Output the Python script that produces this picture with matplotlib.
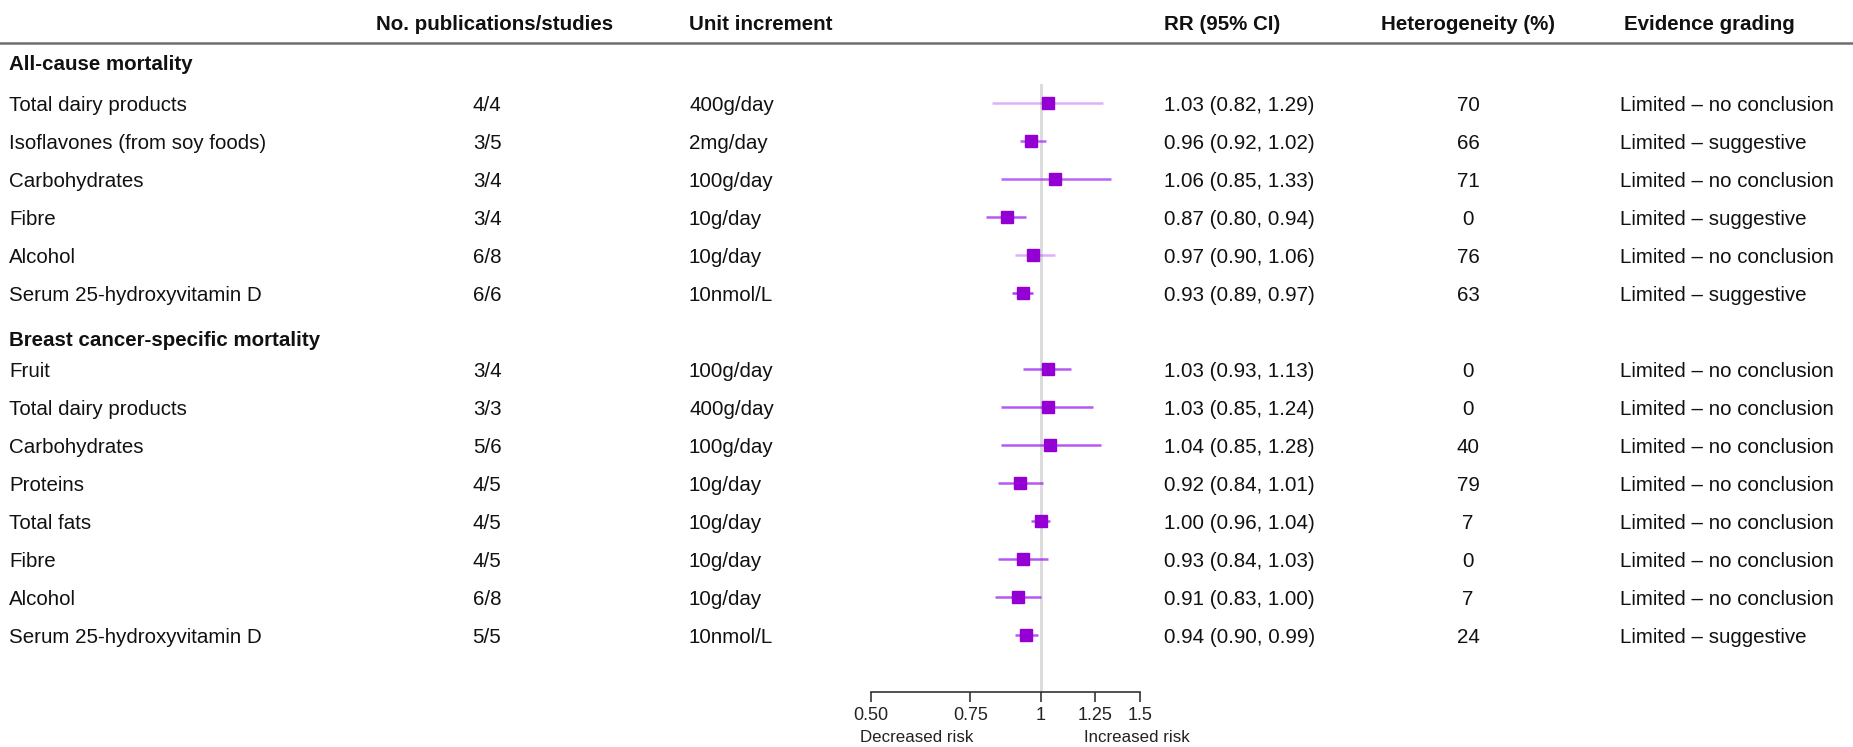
import numpy as np
import matplotlib
matplotlib.use("Agg")
from matplotlib import pyplot as plt

plt.rcParams['font.family'] = ['Liberation Sans', 'DejaVu Sans']

# data
sections = ["All-cause mortality", "Breast cancer-specific mortality"]
section_of = [0, 0, 0, 0, 0, 0, 1, 1, 1, 1, 1, 1, 1, 1]
exposures = ["Total dairy products", "Isoflavones (from soy foods)", "Carbohydrates", "Fibre",
             "Alcohol", "Serum 25-hydroxyvitamin D",
             "Fruit", "Total dairy products", "Carbohydrates", "Proteins", "Total fats",
             "Fibre", "Alcohol", "Serum 25-hydroxyvitamin D"]
studies = ["4/4", "3/5", "3/4", "3/4", "6/8", "6/6",
           "3/4", "3/3", "5/6", "4/5", "4/5", "4/5", "6/8", "5/5"]
units = ["400g/day", "2mg/day", "100g/day", "10g/day", "10g/day", "10nmol/L",
         "100g/day", "400g/day", "100g/day", "10g/day", "10g/day", "10g/day", "10g/day", "10nmol/L"]
rr = [1.03, 0.96, 1.06, 0.87, 0.97, 0.93, 1.03, 1.03, 1.04, 0.92, 1.00, 0.93, 0.91, 0.94]
rr_lo = [0.82, 0.92, 0.85, 0.80, 0.90, 0.89, 0.93, 0.85, 0.85, 0.84, 0.96, 0.84, 0.83, 0.90]
rr_hi = [1.29, 1.02, 1.33, 0.94, 1.06, 0.97, 1.13, 1.24, 1.28, 1.01, 1.04, 1.03, 1.00, 0.99]
heterogeneity = [70, 66, 71, 0, 76, 63, 0, 0, 40, 79, 7, 0, 7, 24]
grading = ["Limited – no conclusion", "Limited – suggestive", "Limited – no conclusion",
           "Limited – suggestive", "Limited – no conclusion", "Limited – suggestive",
           "Limited – no conclusion", "Limited – no conclusion", "Limited – no conclusion",
           "Limited – no conclusion", "Limited – no conclusion", "Limited – no conclusion",
           "Limited – no conclusion", "Limited – suggestive"]
ticks = [0.5, 0.75, 1, 1.25, 1.5]
tick_labels = ["0.50", "0.75", "1", "1.25", "1.5"]
columns = ["No. publications/studies", "Unit increment", "RR (95% CI)", "Heterogeneity (%)", "Evidence grading"]

# style (ci line strength per row)
ci_alpha = [0.35, 0.7, 0.7, 0.75, 0.35, 0.85, 0.75, 0.75, 0.75, 0.75, 0.75, 0.75, 0.75, 0.75]

W, H = 1853, 747
fig = plt.figure(figsize=(W / 100, H / 100), dpi=100)

# pixel based axes for the table text
tab = fig.add_axes([0, 0, 1, 1])
tab.set_xlim(0, W)
tab.set_ylim(H, 0)
tab.axis("off")

# row positions (one empty slot between the sections)
slots = np.arange(len(exposures)) + np.array(section_of)
row_y = 103 + 38 * slots
section_y = [64, 340]
dy = 2.5  # text sits a bit lower than the marker centre

fs = 14.8
txt = "#111111"

# header
header_y = 25
tab.text(495, header_y, columns[0], ha="center", va="center", fontsize=fs, fontweight="bold", color=txt)
tab.text(689, header_y, columns[1], ha="left", va="center", fontsize=fs, fontweight="bold", color=txt)
tab.text(1164, header_y, columns[2], ha="left", va="center", fontsize=fs, fontweight="bold", color=txt)
tab.text(1468, header_y, columns[3], ha="center", va="center", fontsize=fs, fontweight="bold", color=txt)
tab.text(1624, header_y, columns[4], ha="left", va="center", fontsize=fs, fontweight="bold", color=txt)
tab.plot([0, W], [43, 43], color="#6e6e6e", lw=1.8)

for s, name in enumerate(sections):
    tab.text(9, section_y[s], name, ha="left", va="center", fontsize=fs, fontweight="bold", color=txt)

for i in range(len(exposures)):
    y = row_y[i] + dy
    tab.text(9, y, exposures[i], ha="left", va="center", fontsize=fs, color=txt)
    tab.text(487, y, studies[i], ha="center", va="center", fontsize=fs, color=txt)
    tab.text(689, y, units[i], ha="left", va="center", fontsize=fs, color=txt)
    tab.text(1164, y, "%.2f (%.2f, %.2f)" % (rr[i], rr_lo[i], rr_hi[i]), ha="left", va="center", fontsize=fs, color=txt)
    tab.text(1468, y, str(heterogeneity[i]), ha="center", va="center", fontsize=fs, color=txt)
    tab.text(1620, y, grading[i], ha="left", va="center", fontsize=fs, color=txt)

# forest plot axes, same vertical pixel scale, bottom spine at y=692
x0, x1 = 871, 1140
axis_y = 692
ax = fig.add_axes([x0 / W, (H - axis_y) / H, (x1 - x0) / W, axis_y / H])
ax.patch.set_alpha(0)
ax.set_xscale("log")
ax.set_xlim(0.5, 1.5)
ax.set_ylim(axis_y, 0)
for sp in ["top", "left", "right"]:
    ax.spines[sp].set_visible(False)
ax.spines["bottom"].set_color("#333333")
ax.spines["bottom"].set_linewidth(1.2)
ax.set_yticks([])
ax.set_xticks(ticks)
ax.set_xticklabels(tick_labels)
ax.xaxis.set_minor_locator(matplotlib.ticker.NullLocator())
ax.tick_params(axis="x", direction="out", length=7, width=1.2, color="#333333",
               labelsize=13, labelcolor="#222222", pad=4)

ax.plot([1, 1], [85, axis_y], color="#d9d9d9", lw=2, zorder=1)

for i in range(len(exposures)):
    ax.plot([rr_lo[i], rr_hi[i]], [row_y[i], row_y[i]], color="#a020f0", alpha=ci_alpha[i],
            lw=1.8, solid_capstyle="butt", zorder=2)
    ax.plot(rr[i], row_y[i], marker="s", markersize=8.2, color="#9400d3", zorder=3)

tab.text(860, 737, "Decreased risk", ha="left", va="center", fontsize=12.2, color="#222222")
tab.text(1084, 737, "Increased risk", ha="left", va="center", fontsize=12.2, color="#222222")

plt.savefig("out.png", dpi=100)
